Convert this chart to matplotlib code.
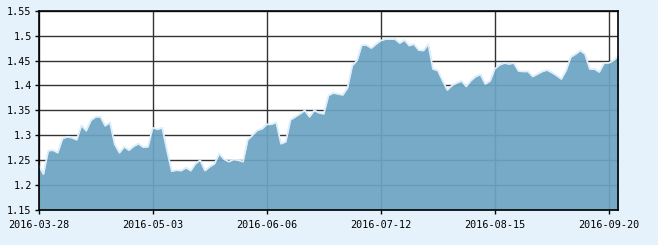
import matplotlib
matplotlib.use("Agg")
import matplotlib.pyplot as plt
import numpy as np

tick_labels = ["2016-03-28", "2016-05-03", "2016-06-06", "2016-07-12", "2016-08-15", "2016-09-20"]
tick_idx = [0, 24, 48, 72, 96, 120]

values = [
    1.240, 1.222, 1.269, 1.270, 1.265, 1.293, 1.297, 1.295, 1.291, 1.320,
    1.309, 1.330, 1.337, 1.337, 1.319, 1.326, 1.282, 1.265, 1.277, 1.270,
    1.278, 1.283, 1.276, 1.277, 1.315, 1.312, 1.315, 1.270, 1.228, 1.230,
    1.229, 1.235, 1.229, 1.243, 1.250, 1.229, 1.237, 1.243, 1.263, 1.252,
    1.247, 1.251, 1.250, 1.247, 1.291, 1.300, 1.310, 1.313, 1.322, 1.322,
    1.326, 1.283, 1.287, 1.331, 1.337, 1.343, 1.350, 1.337, 1.350, 1.345,
    1.343, 1.380, 1.385, 1.383, 1.381, 1.395, 1.440, 1.450, 1.481, 1.481,
    1.475, 1.483, 1.490, 1.493, 1.493, 1.493, 1.485, 1.491, 1.480, 1.483,
    1.471, 1.470, 1.483, 1.433, 1.430, 1.410, 1.391, 1.400, 1.405, 1.409,
    1.398, 1.410, 1.418, 1.422, 1.403, 1.409, 1.433, 1.441, 1.445, 1.443,
    1.445, 1.429, 1.428, 1.428, 1.418, 1.423, 1.428, 1.431, 1.426, 1.420,
    1.413, 1.430, 1.457, 1.463, 1.470, 1.463, 1.433, 1.433, 1.427, 1.445,
    1.445, 1.450, 1.460,
]
y_ticks = [1.15, 1.2, 1.25, 1.3, 1.35, 1.4, 1.45, 1.5, 1.55]
y_labels = ["1.15", "1.2", "1.25", "1.3", "1.35", "1.4", "1.45", "1.5", "1.55"]

x = np.arange(len(values))

fig = plt.figure(figsize=(6.58, 2.45), dpi=100, facecolor="#E6F2FB")
ax = fig.add_axes([38.7/658, 35/245, (618.3-38.7)/658, (234.3-35)/245])
ax.set_facecolor("white")

ax.set_axisbelow(True)
ax.grid(True, color="#333333", linewidth=1.0)
ax.fill_between(x, 1.15, values, color="#6DA4C3", alpha=0.93, linewidth=0, zorder=2)
ax.plot(x, values, color="#DDEEFA", linewidth=1.3, zorder=3)

ax.set_xlim(0, len(values) - 1)
ax.set_ylim(1.15, 1.55)
ax.set_xticks(tick_idx)
ax.set_xticklabels(tick_labels)
ax.set_yticks(y_ticks)
ax.set_yticklabels(y_labels)

for s in ax.spines.values():
    s.set_color("black")
    s.set_linewidth(1.2)
    s.set_zorder(5)

ax.tick_params(axis="both", direction="out", length=3, width=1, color="black",
               labelsize=7.3, labelcolor="black", pad=2)
ax.tick_params(axis="x", pad=4)
for lab in ax.get_xticklabels() + ax.get_yticklabels():
    lab.set_family("DejaVu Sans Mono")

fig.savefig("out.png", dpi=100, facecolor=fig.get_facecolor())
